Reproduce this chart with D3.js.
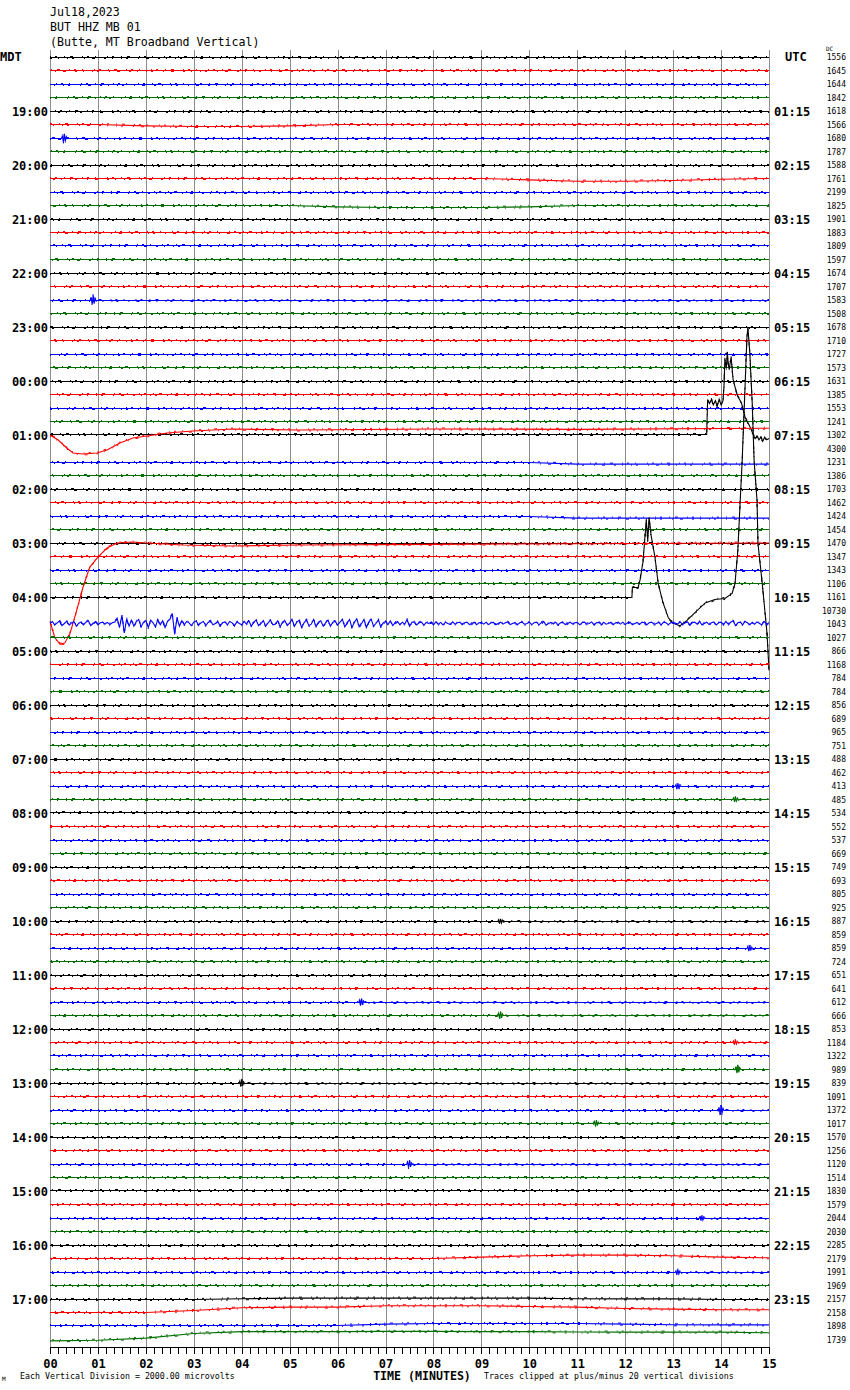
<!DOCTYPE html>
<html>
<head>
<meta charset="utf-8">
<script src="https://cdn.jsdelivr.net/npm/d3@7"></script>
<style>
body { margin: 0; background: #fff; }
text { font-family: "DejaVu Sans Mono", monospace; }
</style>
</head>
<body>
<svg id="chart" width="850" height="1390"></svg>
<script>
var titleLines = ["Jul18,2023", "BUT HHZ MB 01", "(Butte, MT Broadband Vertical)"];
var mdtLabels = ["19:00","20:00","21:00","22:00","23:00","00:00","01:00","02:00","03:00","04:00","05:00","06:00",
                 "07:00","08:00","09:00","10:00","11:00","12:00","13:00","14:00","15:00","16:00","17:00"];
var utcLabels = ["01:15","02:15","03:15","04:15","05:15","06:15","07:15","08:15","09:15","10:15","11:15","12:15",
                 "13:15","14:15","15:15","16:15","17:15","18:15","19:15","20:15","21:15","22:15","23:15"];
var tickLabels = ["00","01","02","03","04","05","06","07","08","09","10","11","12","13","14","15"];
var dcValues = [1556,1645,1644,1842,1618,1566,1680,1787,1588,1761,2199,1825,1901,1883,1809,1597,
                1674,1707,1583,1508,1678,1710,1727,1573,1631,1385,1553,1241,1302,4300,1231,1386,
                1703,1462,1424,1454,1470,1347,1343,1106,1161,10730,1043,1027,866,1168,784,784,
                856,689,965,751,488,462,413,485,534,552,537,669,749,693,805,925,
                887,859,859,724,651,641,612,666,853,1184,1322,989,839,1091,1372,1017,
                1570,1256,1120,1514,1830,1579,2044,2030,2285,2179,1991,1969,2157,2158,1898,1739];
var traceColors = ["#000000", "#ff0000", "#0000ff", "#006e00"];

// trace 28 (01:00 MDT, black) : [minute, vertical divisions]
var quakeA = [[0,0],[13.70,0],[13.72,2.6],[13.76,2.3],[13.80,2.6],[13.84,2.2],[13.88,2.5],[13.92,2.1],
  [13.96,2.6],[14.00,2.2],[14.04,2.5],[14.06,3.5],[14.08,5.6],[14.11,4.9],[14.13,6.1],[14.15,5.2],
  [14.17,4.8],[14.19,5.3],[14.21,5.7],[14.25,4.1],[14.30,3.4],[14.35,2.8],[14.42,2.4],[14.50,1.3],
  [14.60,0.6],[14.67,0],[14.71,-0.3],[14.75,-0.1],[14.79,-0.4],[14.83,-0.2],[14.87,-0.5],[14.91,-0.2],
  [14.95,-0.4],[15,-0.3]];
// trace 40 (04:00 MDT, black), clipped at 20 divisions
var quakeB = [[0,0],[12.14,0],[12.15,0.74],[12.27,0.74],[12.31,1.3],[12.37,2.6],[12.41,4.4],[12.44,5.7],
  [12.47,4.2],[12.50,5.9],[12.54,4.6],[12.62,3.0],[12.69,1.0],[12.79,-0.4],[12.90,-1.5],[13.00,-1.9],
  [13.14,-2.1],[13.29,-1.7],[13.46,-1.1],[13.67,-0.4],[13.87,-0.15],[14.08,-0.07],[14.23,0.3],
  [14.29,1.0],[14.35,3.5],[14.40,7.2],[14.44,10.1],[14.50,15.6],[14.54,19.3],[14.56,21],[14.60,18.1],
  [14.65,14.4],[14.69,10.1],[14.75,7.2],[14.77,4.0],[14.86,1.0],[14.96,-2.7],[15,-5.4]];
// trace 29 (red) long period drift after the event
var longPeriodA = [[0,1.0],[0.17,0.63],[0.35,0.04],[0.48,-0.33],[0.69,-0.41],[0.98,-0.33],[1.19,-0.11],
  [1.46,0.41],[1.73,0.78],[2.02,0.93],[2.44,1.15],[2.98,1.3],[3.82,1.44],[5.2,1.37],[8.0,1.45],
  [11.0,1.42],[15,1.5]];
// trace 41 (red) long period swing
var longPeriodB = [[0,-0.8],[0.1,-2.0],[0.21,-2.5],[0.31,-2.4],[0.42,-1.67],[0.56,0.04],[0.69,1.74],
  [0.83,3.22],[1.0,3.96],[1.19,4.63],[1.4,5.0],[1.73,5.07],[2.02,5.0],[2.77,4.85],[3.82,4.78],
  [5.2,4.85],[8.0,4.9],[11.0,4.95],[15,5.0]];
// trace 42 (blue) surface waves, one value every 0.05 minute
var surfaceWaves = [
  0.0,0.15,-0.1,0.05,0.2,-0.15,0.0,0.18,-0.12,0.05,0.15,-0.2,0.02,0.12,-0.1,0.1,0.2,-0.15,0.0,0.15,-0.1,
  0.05,0.1,-0.05,0.08,-0.08,0.05,0.1,
  0.4,-0.3,0.6,-0.7,0.35,-0.2,
  0.25,-0.2,0.15,0.3,-0.25,0.1,0.2,
  -0.3,0.25,0.05,-0.25,0.3,-0.1,0.2,-0.3,0.15,
  0.3,0.75,-0.75,0.4,-0.2,
  0.2,-0.1,0.15,0.05,-0.15,0.1,
  0.18,-0.12,0.05,0.15,-0.15,0.08,0.18,-0.1,0.0,0.15,-0.18,0.05,0.12,-0.1,0.15,0.05,-0.15,0.12,0.0,-0.1,0.15,-0.05,
  0.2,-0.2,0.1,0.25,-0.15,0.0,0.22,-0.2,0.05,0.25,-0.1,-0.05,0.2,-0.25,0.1,0.2,-0.15,0.05,
  0.3,-0.2,0.1,0.25,-0.3,0.05,0.28,-0.15,-0.05,0.3,-0.25,0.1,0.2,-0.2,0.05,0.25,-0.2,0.1,0.15,-0.1,
  0.1,0.3,-0.25,0.05,0.3,-0.3,0.1,0.35,-0.25,0.0,0.3,-0.3,0.1,0.32,-0.2,0.0,0.28,-0.25,0.05,0.15,
  -0.1,0.2,-0.15,0.05,0.15,-0.1,0.1,-0.05,0.3,-0.2,0.1,0.12,-0.1,0.05,0.1,-0.12,0.08,0.0,0.1,-0.1,
  0.12,-0.05,0.08,-0.1,0.1,0.0,-0.08,0.12,-0.05,0.05,0.1,-0.1,0.05,0.1,-0.08,0.0,0.1,-0.1,0.05,0.08,
  -0.05,0.1,-0.08,0.05,0.08,-0.1,0.0,0.1,-0.05,0.05,0.12,-0.08,0.0,0.08,-0.1,0.05,0.1,-0.05,0.0,0.1,
  -0.08,0.05,0.1,-0.1,0.05,0.15,-0.12,0.0,0.08,-0.05,0.1,-0.1,0.05,0.08,-0.08,0.0,0.1,-0.05,0.05,0.08,
  -0.1,0.05,0.1,-0.05,0.0,0.12,-0.1,0.05,0.08,-0.08,0.1,-0.05,0.0,0.1,-0.1,0.05,0.08,-0.05,0.1,-0.08,
  0.05,0.1,-0.1,0.0,0.08,-0.08,0.1,0.05,-0.1,0.05,0.1,-0.05,0.0,0.08,-0.1,0.1,0.05,-0.08,0.05,0.1,
  -0.05,0.0,0.1,-0.08,0.05,0.12,-0.1,0.05,0.1,-0.05,0.15,-0.1,0.0,0.1,-0.08,0.05,0.12,-0.1,0.05,0.1,
  -0.1,0.15,-0.05,0.1,0.2,-0.15,0.05,0.1,-0.1,0.15,0.05,-0.1,0.1,-0.05,0.12,0.0,-0.1,0.15,-0.05,0.05];

// slow wander of some quiet traces, one value per minute
var driftRows = [5, 9, 11, 30, 34, 89, 92, 93, 94, 95];
var driftValues = [
  [0,0,-0.1,-0.15,-0.15,-0.1,0,0,0,0,0,0,0,0,0,0],
  [0,0,0,0,0,0,0,0,0,0,-0.1,-0.2,-0.2,-0.15,-0.05,0],
  [0,0,0,0,0,0,-0.1,-0.15,-0.15,-0.15,-0.1,0,0,0,0,0],
  [0,0,0,0,0,0,0,0,0,0,0,-0.12,-0.12,-0.12,-0.12,-0.12],
  [0,0,0,0,0,0,0,0,0,0,0,-0.12,-0.12,-0.12,-0.12,-0.12],
  [0,0,0,0,0,0,0,0,0,0.1,0.2,0.25,0.25,0.2,0.1,0.05],
  [0,0,0,0,0.05,0.1,0.1,0.1,0.1,0.1,0.1,0.05,0.05,0.05,0,0],
  [0,0,0,0.15,0.35,0.4,0.4,0.5,0.5,0.5,0.45,0.4,0.3,0.25,0.2,0.2],
  [0,0,0,0,0,0,0,0.1,0.15,0.15,0.15,0.15,0.1,0.05,0.05,0.05],
  [-0.1,-0.05,0.1,0.45,0.58,0.58,0.58,0.6,0.6,0.58,0.58,0.55,0.55,0.55,0.55,0.5]];

// small local events: row, minute, size in divisions
var blipRows = [6, 18, 54, 55, 64, 66, 70, 71, 73, 75, 76, 78, 79, 82, 86, 90];
var blipMinutes = [0.3, 0.9, 13.1, 14.3, 9.4, 14.6, 6.5, 9.4, 14.3, 14.35, 4.0, 14.0, 11.4, 7.5, 13.6, 13.1];
var blipSizes = [0.35, 0.4, 0.25, 0.2, 0.2, 0.25, 0.3, 0.3, 0.2, 0.35, 0.3, 0.4, 0.25, 0.3, 0.2, 0.2];
var blipShape = [0, 0.6, -0.8, 1.0, -0.6, 0.4, 0];

var svg = d3.select("#chart");
var plotTop = 50, plotBottom = 1347;
var x = d3.scaleLinear().domain([0, 15]).range([50, 769]);
var row = d3.scaleLinear().domain([0, 95]).range([57, 1339.5]);
var div = d3.scaleLinear().domain([-20, 20]).range([270, -270]).clamp(true);

// header
svg.append("g").selectAll("text").data(titleLines).enter().append("text")
    .attr("x", 50).attr("y", function(d, i) { return 16 + i * 15; })
    .attr("font-size", 11.6).text(function(d) { return d; });

svg.append("text").attr("x", 0).attr("y", 61).attr("font-size", 12).attr("font-weight", "bold").text("MDT");
svg.append("text").attr("x", 785).attr("y", 61).attr("font-size", 12).attr("font-weight", "bold").text("UTC");
svg.append("text").attr("x", 826).attr("y", 51).attr("font-size", 6).text("DC");

// minute grid
svg.append("g").selectAll("line").data(tickLabels).enter().append("line")
    .attr("x1", function(d, i) { return Math.round(x(i)) + 0.5; })
    .attr("x2", function(d, i) { return Math.round(x(i)) + 0.5; })
    .attr("y1", plotTop).attr("y2", plotBottom)
    .attr("stroke", "#8c8c8c").attr("stroke-width", 1)
    .attr("shape-rendering", "crispEdges");

// traces
var line = d3.line()
    .x(function(d) { return x(d[0]); })
    .y(function(d) { return div(d[1]); });

function tracePoints(i) {
    if (i == 28) return quakeA;
    if (i == 40) return quakeB;
    if (i == 29) return longPeriodA;
    if (i == 41) return longPeriodB;
    if (i == 42) return surfaceWaves.map(function(v, k) { return [k * 0.05, v]; });
    var d = driftRows.indexOf(i);
    if (d >= 0) return driftValues[d].map(function(v, m) { return [m, v]; });
    var pts = [[0, 0]];
    var b = blipRows.indexOf(i);
    if (b >= 0) {
        blipShape.forEach(function(v, k) {
            pts.push([blipMinutes[b] - 0.06 + k * 0.02, v * blipSizes[b]]);
        });
    }
    pts.push([15, 0]);
    return pts;
}

var rows = d3.range(96);
var traces = svg.append("g").selectAll("g").data(rows).enter().append("g")
    .attr("transform", function(i) { return "translate(0," + (Math.floor(row(i)) + 0.5) + ")"; });

traces.append("path")
    .attr("d", function(i) { return line(tracePoints(i)); })
    .attr("fill", "none")
    .attr("stroke", function(i) { return traceColors[i % 4]; })
    .attr("stroke-width", 1.1);

// speckle of the recording noise
traces.append("path")
    .attr("d", function(i) { return line(tracePoints(i)); })
    .attr("transform", "translate(0,-1)")
    .attr("fill", "none")
    .attr("stroke", function(i) { return traceColors[i % 4]; })
    .attr("stroke-width", 1)
    .attr("stroke-dasharray", "1,4,2,7,1,5,3,9,1,4,2,6,1,11")
    .attr("stroke-dashoffset", function(i) { return (i * 13) % 60; });

traces.append("path")
    .attr("d", function(i) { return line(tracePoints(i)); })
    .attr("transform", "translate(0,1)")
    .attr("fill", "none")
    .attr("stroke", function(i) { return traceColors[i % 4]; })
    .attr("stroke-width", 1)
    .attr("stroke-dasharray", "2,6,1,8,1,4,2,10,1,7,3,9")
    .attr("stroke-dashoffset", function(i) { return (i * 29) % 70; });

// side labels
svg.append("g").selectAll("text").data(mdtLabels).enter().append("text")
    .attr("x", 48).attr("y", function(d, i) { return row((i + 1) * 4) + 5; })
    .attr("text-anchor", "end").attr("font-size", 12).attr("font-weight", "bold")
    .text(function(d) { return d; });

svg.append("g").selectAll("text").data(utcLabels).enter().append("text")
    .attr("x", 774).attr("y", function(d, i) { return row((i + 1) * 4) + 5; })
    .attr("font-size", 12).attr("font-weight", "bold")
    .text(function(d) { return d; });

svg.append("g").selectAll("text").data(dcValues).enter().append("text")
    .attr("x", 846).attr("y", function(d, i) { return row(i) + 3; })
    .attr("text-anchor", "end").attr("font-size", 8)
    .text(function(d) { return d; });

// time axis
var axis = d3.axisBottom(x)
    .tickValues(d3.range(0, 16))
    .tickFormat(function(d) { return tickLabels[d]; })
    .tickSize(7).tickSizeOuter(0).tickPadding(5);
var gAxis = svg.append("g").attr("transform", "translate(0," + plotBottom + ")").call(axis);
gAxis.attr("font-family", null).attr("font-size", null);
gAxis.selectAll("line, path").attr("shape-rendering", "crispEdges").attr("stroke", "#000");
gAxis.selectAll("text").attr("font-size", 12).attr("font-weight", "bold").attr("fill", "#000");

var minorAxis = d3.axisBottom(x)
    .tickValues(d3.range(0, 91).map(function(k) { return k / 6; }))
    .tickFormat("").tickSize(7).tickSizeOuter(0);
svg.append("g").attr("transform", "translate(0," + plotBottom + ")").call(minorAxis)
    .selectAll("line, path").attr("shape-rendering", "crispEdges").attr("stroke", "#000");

svg.append("text").attr("x", 422).attr("y", 1380).attr("text-anchor", "middle")
    .attr("font-size", 11.6).attr("font-weight", "bold").text("TIME (MINUTES)");
svg.append("text").attr("x", 20).attr("y", 1379).attr("font-size", 8.3)
    .text("Each Vertical Division = 2000.00 microvolts");
svg.append("text").attr("x", 484).attr("y", 1379).attr("font-size", 8.3)
    .text("Traces clipped at plus/minus 20 vertical divisions");
svg.append("text").attr("x", 2).attr("y", 1381).attr("font-size", 6).text("M");
</script>
</body>
</html>
